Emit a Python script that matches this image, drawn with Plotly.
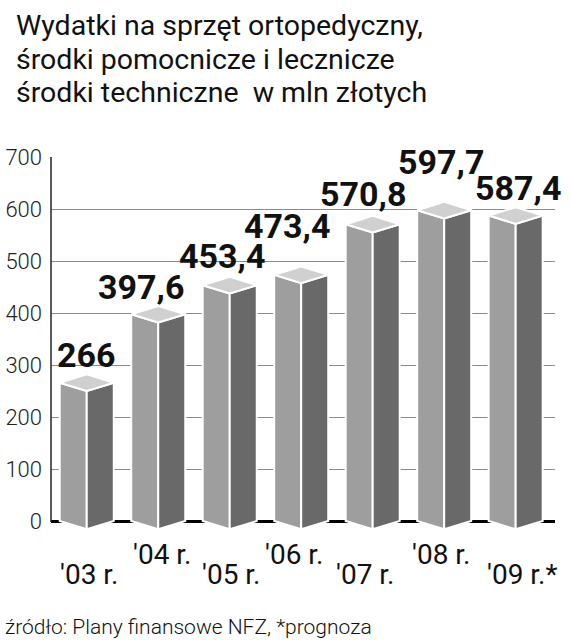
import plotly.graph_objects as go

# Data
years = ["'03 r.", "'04 r.", "'05 r.", "'06 r.", "'07 r.", "'08 r.", "'09 r.*"]
values = [266, 397.6, 453.4, 473.4, 570.8, 597.7, 587.4]
value_labels = ["266", "397,6", "453,4", "473,4", "570,8", "597,7", "587,4"]
y_ticks = [0, 100, 200, 300, 400, 500, 600, 700]

title_lines = [
    "Wydatki na sprzęt ortopedyczny,",
    "środki pomocnicze i lecznicze",
    "środki techniczne  w mln złotych",
]
source_text = "źródło: Plany finansowe NFZ, *prognoza"

# Prism styling
HALF = 0.378      # half bar width in category units
DEPTH = 16        # vertical skew of the prism edges in value units
LEFT_FACE = "#9e9e9e"
RIGHT_FACE = "#696969"
TOP_FACE = "#d0d0d0"

# Label offsets (pixels)
label_xshift = [0, -17, -8, -14, -10, -3, 2]
label_lift = [6, 6, 8, 28, 9, 27, 6]
year_xshift = [3, 4, 2, -7, -7, -3, 7]

FONT = "Roboto"

left_x, left_y, right_x, right_y, top_x, top_y = [], [], [], [], [], []
for i, v in enumerate(values):
    left_x += [i - HALF, i, i, i - HALF, i - HALF, None]
    left_y += [v, v - DEPTH, -DEPTH, 0, v, None]
    right_x += [i, i + HALF, i + HALF, i, i, None]
    right_y += [v - DEPTH, v, 0, -DEPTH, v - DEPTH, None]
    top_x += [i - HALF, i, i + HALF, i, i - HALF, None]
    top_y += [v, v + DEPTH, v, v - DEPTH, v, None]

fig = go.Figure()
for xs, ys, col in [(left_x, left_y, LEFT_FACE),
                    (right_x, right_y, RIGHT_FACE),
                    (top_x, top_y, TOP_FACE)]:
    fig.add_trace(go.Scatter(
        x=xs, y=ys, mode="lines", fill="toself", fillcolor=col,
        line=dict(color="white", width=2), hoverinfo="skip",
        showlegend=False,
    ))

annotations = []
# value labels above each prism
for i, (v, txt) in enumerate(zip(values, value_labels)):
    annotations.append(dict(
        x=i, y=v + DEPTH, xref="x", yref="y", text=txt, showarrow=False,
        xanchor="center", yanchor="bottom",
        xshift=label_xshift[i], yshift=label_lift[i] - 9,
        font=dict(family=FONT, size=34, color="#111111", weight=700),
    ))
# staggered year labels
for i, yr in enumerate(years):
    annotations.append(dict(
        x=i, y=0, xref="x", yref="y", text=yr, showarrow=False,
        xanchor="center", yanchor="top",
        xshift=year_xshift[i], yshift=-35 if i % 2 == 0 else -15,
        font=dict(family=FONT, size=28, color="#111111"),
    ))
# title lines
for k, line in enumerate(title_lines):
    annotations.append(dict(
        x=0, y=1, xref="paper", yref="paper", text=line,
        showarrow=False, xanchor="left", yanchor="bottom",
        xshift=-37, yshift=113 - 33.5 * k,
        font=dict(family=FONT, size=28.5, color="#111111"),
    ))
# source
annotations.append(dict(
    x=0, y=0, xref="paper", yref="paper", text=source_text,
    showarrow=False, xanchor="left", yanchor="top",
    xshift=-48, yshift=-79,
    font=dict(family=FONT, size=21, color="#111111", weight=300),
))

fig.update_layout(
    width=571, height=640,
    margin=dict(l=51, r=16, t=157, b=106, autoexpand=False),
    paper_bgcolor="white", plot_bgcolor="white",
    showlegend=False,
    annotations=annotations,
    shapes=[dict(type="line", xref="paper", yref="y", x0=0, x1=0,
                 y0=-2, y1=700, line=dict(color="#222222", width=1.5),
                 layer="above")],
)
fig.update_xaxes(range=[-0.5, 6.55], showticklabels=False, showgrid=False,
                 zeroline=False, showline=False, fixedrange=True,
                 automargin=False)
fig.update_yaxes(range=[-25, 700], tickvals=y_ticks,
                 ticktext=[str(t) for t in y_ticks],
                 showgrid=True, gridcolor="#8a8a8a", gridwidth=1.2,
                 zeroline=True, zerolinecolor="#000000", zerolinewidth=3,
                 showline=False, ticks="", ticklabelstandoff=8,
                 tickfont=dict(family=FONT, size=22, color="#222222", weight=300),
                 fixedrange=True, automargin=False)

fig.write_html("out.html")
